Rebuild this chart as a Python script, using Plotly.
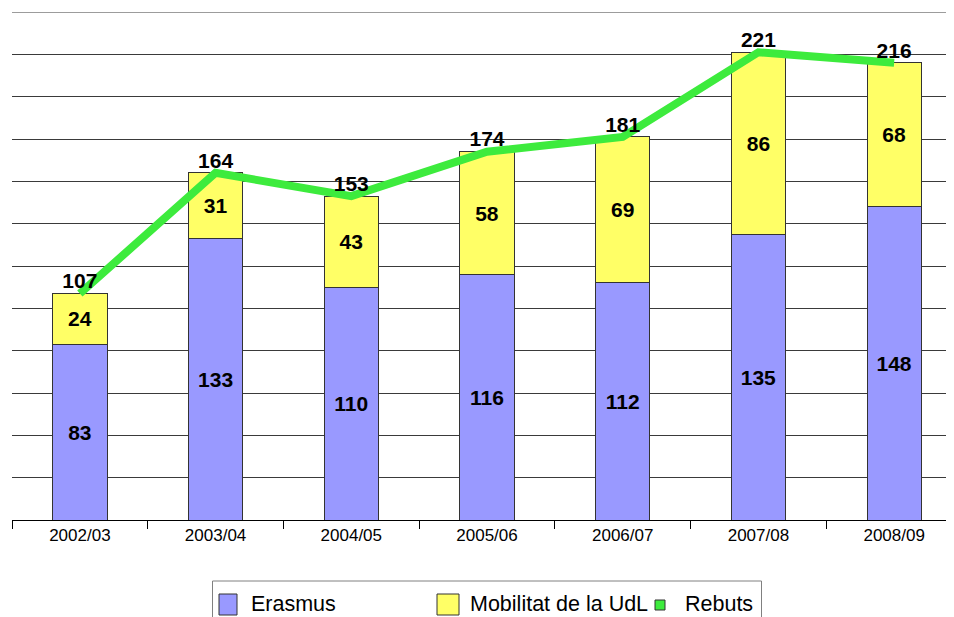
import plotly.graph_objects as go

categories = ["2002/03", "2003/04", "2004/05", "2005/06", "2006/07", "2007/08", "2008/09"]
erasmus = [83, 133, 110, 116, 112, 135, 148]
mobilitat = [24, 31, 43, 58, 69, 86, 68]
rebuts = [107, 164, 153, 174, 181, 221, 216]
series_names = ["Erasmus", "Mobilitat de la UdL", "Rebuts"]

BLUE = "#9999FF"
YELLOW = "#FFFF66"
GREEN = "#3DEB3D"
FONT = "Arial, Liberation Sans, sans-serif"
lbl_font = dict(family=FONT, size=21, color="black")

# page body adds an 8px offset; figure sized so that the plot lands at screen coords
OFF = 8
W, H = 954, 617 - OFF
L, R, T, B = 12 - OFF, 0, 12 - OFF, 97
PW, PH = W - L - R, H - T - B

def px(x):  # screen px -> paper
    return (x - OFF - L) / PW

def py(y):  # screen px -> paper
    return (H - B - (y - OFF)) / PH

fig = go.Figure()
fig.add_trace(go.Bar(
    x=categories, y=erasmus, name=series_names[0],
    marker=dict(color=BLUE, line=dict(color="#333333", width=1)),
    text=[str(v) for v in erasmus], textposition="inside", insidetextanchor="middle",
    textfont=lbl_font, texttemplate="<b>%{text}</b>", textangle=0,
))
fig.add_trace(go.Bar(
    x=categories, y=mobilitat, name=series_names[1],
    marker=dict(color=YELLOW, line=dict(color="#333333", width=1)),
    text=[str(v) for v in mobilitat], textposition="inside", insidetextanchor="middle",
    textfont=lbl_font, texttemplate="<b>%{text}</b>", textangle=0,
))
fig.add_trace(go.Scatter(
    x=categories, y=rebuts, name=series_names[2], mode="lines+text",
    line=dict(color=GREEN, width=8),
    text=["<b>%d</b>" % v for v in rebuts], textposition="top center",
    textfont=lbl_font, cliponaxis=False,
))

fig.update_layout(
    width=W, height=H,
    margin=dict(l=L, r=R, t=T, b=B, autoexpand=False),
    barmode="stack", bargap=0.6,
    plot_bgcolor="white", paper_bgcolor="white",
    font=dict(family=FONT, color="black"),
    showlegend=False,
    xaxis=dict(
        type="category", showline=True, linecolor="black", linewidth=1,
        ticks="outside", tickson="boundaries", ticklen=8, tickcolor="black",
        tickfont=dict(size=17, color="black"), showgrid=False,
    ),
    yaxis=dict(
        range=[0, 240], dtick=20, showticklabels=False, showgrid=True,
        gridcolor="#3a3a3a", gridwidth=1, zeroline=False, showline=False,
    ),
)
fig.add_shape(type="line", xref="paper", yref="y", x0=0, x1=1, y0=240, y1=240,
              line=dict(color="#3a3a3a", width=1))

# custom legend (box with symbols and text)
fig.add_shape(type="rect", xref="paper", yref="paper",
              x0=px(212.5), x1=px(761.5), y0=py(625), y1=py(581),
              line=dict(color="#808080", width=1), fillcolor="white", layer="above")
legend_items = [
    (series_names[0], BLUE, 219, 237, 594, 615, 249),
    (series_names[1], YELLOW, 437, 459, 594, 615, 468),
    (series_names[2], GREEN, 655, 665, 600, 610, 683),
]
for name, col, x0, x1, y0, y1, tx in legend_items:
    fig.add_shape(type="rect", xref="paper", yref="paper",
                  x0=px(x0), x1=px(x1), y0=py(y1), y1=py(y0),
                  line=dict(color="#333333", width=1), fillcolor=col, layer="above")
    fig.add_annotation(xref="paper", yref="paper", x=px(tx), y=py(604),
                       xanchor="left", yanchor="middle", showarrow=False,
                       text=name, font=dict(family=FONT, size=21.5, color="black"))

fig.write_html("out.html")
